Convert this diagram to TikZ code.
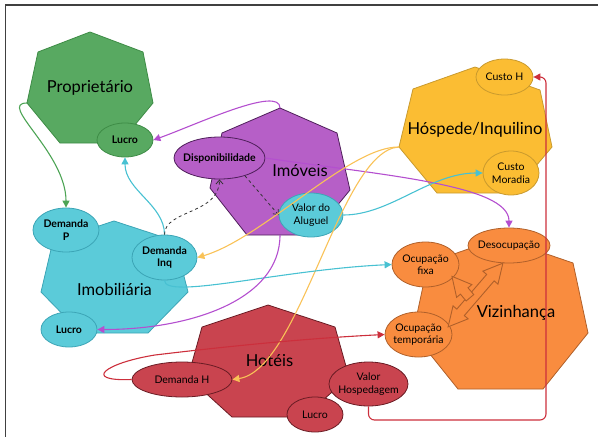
\documentclass[tikz,border=0pt]{standalone}
\usepackage{fontspec}
\setmainfont{Lato}
\usetikzlibrary{shapes.geometric,shapes.arrows,arrows.meta}

\definecolor{gFill}{HTML}{58A961}
\definecolor{gLine}{HTML}{3E8C46}
\definecolor{pFill}{HTML}{B65FC7}
\definecolor{pLine}{HTML}{4F1F5B}
\definecolor{cFill}{HTML}{5BCBD9}
\definecolor{cLine}{HTML}{3CA5B6}
\definecolor{yFill}{HTML}{FBBD33}
\definecolor{yLine}{HTML}{C99A2E}
\definecolor{rFill}{HTML}{C9444F}
\definecolor{rLine}{HTML}{6A1C24}
\definecolor{oFill}{HTML}{F98C3F}
\definecolor{oLine}{HTML}{B0602A}
\definecolor{gArr}{HTML}{4DA455}
\definecolor{pArr}{HTML}{B44FCF}
\definecolor{cArr}{HTML}{48C1D2}
\definecolor{yArr}{HTML}{F9C257}
\definecolor{rArr}{HTML}{CC2F3C}

\begin{document}
\begin{tikzpicture}[x=1pt,y=-1pt,
    area/.style={line width=0.8pt,line join=round},
    ell/.style={ellipse,draw,line width=0.8pt,inner sep=0pt},
    lbl/.style={align=center,font=\fontsize{10.5}{12.5}\selectfont},
    lblb/.style={align=center,font=\fontsize{10.5}{12.5}\selectfont\bfseries},
    big/.style={font=\fontsize{16.5}{20}\selectfont},
    conn/.style={line width=1.1pt,-{Triangle[length=7pt,width=7pt]}},
    dep/.style={dashed,line width=0.8pt,black!80,-{Straight Barb[length=4pt,width=7pt]}},
    blockarr/.style={draw=oLine,fill=oFill,line width=0.9pt,inner xsep=0pt,inner ysep=4.5pt}]
  \useasboundingbox (0,0) rectangle (598,437);
  \draw[line width=1.5pt,black!75] (5.5,437) -- (5.5,5) -- (598,5);

  % groups
  \draw[area,fill=gFill,draw=gLine] (90,32) -- (143,52) -- (153,103) -- (120,143) -- (60,143) -- (27,103) -- (38,52) -- cycle;
  \node[big] (prop) at (90,88) {Proprietário};
  \draw[area,fill=pFill,draw=pLine] (280,108) -- (337,133) -- (350,190) -- (313,235) -- (247,235) -- (210,188) -- (222,133) -- cycle;
  \node[big] (imov) at (300,171) {Imóveis};
  \draw[area,fill=yFill,draw=yLine] (475,67) -- (540,90) -- (552,147) -- (513,193) -- (437,193) -- (399,147) -- (413,89) -- cycle;
  \node[big] (hosp) at (475,130) {Hóspede/Inquilino};
  \draw[area,fill=cFill,draw=cLine] (114,221) -- (175,241) -- (188,292) -- (148,333) -- (81,333) -- (41,292) -- (53,241) -- cycle;
  \node[big] (imob) at (114.5,289.5) {Imobiliária};
  \draw[area,fill=rFill,draw=rLine] (268,305) -- (335,327) -- (349,377) -- (304,417) -- (232,417) -- (188,377) -- (202,327) -- cycle;
  \node[big] (hot) at (269.5,361) {Hotéis};
  \draw[area,fill=oFill,draw=oLine] (500,238) -- (573,263) -- (588,333) -- (543,389) -- (458,389) -- (413,333) -- (428,263) -- cycle;
  \node[big] (viz) at (516,312.5) {Vizinhança};

  \coordinate (propW) at (27,103);
  \coordinate (imoT) at (280,108);
  \coordinate (imoB) at (280,235);
  \coordinate (hospW) at (399,147);
  \coordinate (redTurn) at (546,420);

  % inner elements
  \node[ell,fill=gFill,draw=gLine,minimum width=56,minimum height=34,label={[lblb]center:Lucro}] (lucroP) at (125,140) {};
  \node[ell,fill=pFill,draw=pLine,minimum width=91,minimum height=42,label={[lblb]center:Disponibilidade}] (disp) at (219.5,158) {};
  \node[ell,fill=cFill,draw=cLine,minimum width=64,minimum height=44,label={[lbl]center:Valor do\\Aluguel}] (valAlug) at (311,215) {};
  \node[ell,fill=yFill,draw=yLine,minimum width=57,minimum height=36,label={[lbl]center:Custo H}] (custoH) at (504.5,77) {};
  \node[ell,fill=yFill,draw=yLine,minimum width=56,minimum height=44,label={[lbl]center:Custo\\Moradia}] (custoMor) at (511,173) {};
  \node[ell,fill=cFill,draw=cLine,minimum width=66,minimum height=44,label={[lblb]center:Demanda\\P}] (demP) at (66,230) {};
  \node[ell,fill=cFill,draw=cLine,minimum width=65,minimum height=45,label={[lblb]center:Demanda\\Inq}] (demInq) at (164.5,257.5) {};
  \node[ell,fill=cFill,draw=cLine,minimum width=56,minimum height=35,label={[lblb]center:Lucro}] (lucroI) at (69,329.5) {};
  \node[ell,fill=rFill,draw=rLine,minimum width=100,minimum height=35,label={[lbl]center:Demanda H}] (demH) at (182,379.5) {};
  \node[ell,fill=rFill,draw=rLine,minimum width=79,minimum height=44,label={[lbl]center:Valor\\Hospedagem}] (valHosp) at (368.5,384) {};
  \node[ell,fill=rFill,draw=rLine,minimum width=56,minimum height=35,label={[lbl]center:Lucro}] (lucroH) at (315,414.5) {};
  \node[ell,fill=oFill,draw=oLine,minimum width=67,minimum height=45,label={[lbl]center:Ocupação\\fixa}] (ocFixa) at (425.5,264.5) {};
  \node[ell,fill=oFill,draw=oLine,minimum width=82,minimum height=35,label={[lbl]center:Desocupação}] (desoc) at (509,245.5) {};
  \node[ell,fill=oFill,draw=oLine,minimum width=67,minimum height=45,label={[lbl]center:Ocupação\\temporária}] (ocTemp) at (418.5,334.5) {};

  \node[blockarr,double arrow,rotate=49.3,minimum height=84,double arrow head extend=5pt,double arrow tip angle=55] (mixArr) at (475.5,295) {};
  \node[blockarr,single arrow,rotate=130,minimum height=28,single arrow head extend=5pt,single arrow tip angle=55] (fixArr) at (464,290.7) {};

  % links
  \draw[conn,gArr] (propW) .. controls +(-30,0) and +(0,-55) .. (demP.north);
  \draw[conn,pArr] (imoT) .. controls +(0,-23) and +(42,-15) .. (lucroP.east);
  \draw[conn,cArr] (demInq.north) .. controls +(0,-30) and +(0,33) .. (lucroP.south);
  \draw[dep] (demInq.north) .. controls +(0,-25) and +(0,35) .. (disp.south);
  \draw[dep] (disp.-35) -- (valAlug.west);
  \draw[conn,pArr] (disp.east) .. controls +(115,17) and +(0,-43) .. (desoc.north);
  \draw[conn,cArr] (valAlug.east) .. controls +(47,0) and +(-53,0) .. (custoMor.west);
  \draw[conn,yArr] (hospW) .. controls +(-49,-1) and +(65,-19) .. (demInq.east);
  \draw[conn,yArr] (hospW) .. controls +(-59,3) and +(68,-10) .. (demH.east);
  \draw[conn,cArr] (demInq.south) .. controls +(0,20) and +(-110,5) .. (ocFixa.west);
  \draw[conn,pArr] (imoB) .. controls +(0,65) and +(93,0) .. (lucroI.east);
  \draw[conn,rArr] (demH.west) .. controls +(-50,2) and +(-50,8) .. (155,355) .. controls +(100,-12) and +(-60,3) .. (ocTemp.west);
  \draw[conn,rArr,rounded corners=6pt] (valHosp.south) |- (redTurn) |- (custoH.east);
\end{tikzpicture}
\end{document}
